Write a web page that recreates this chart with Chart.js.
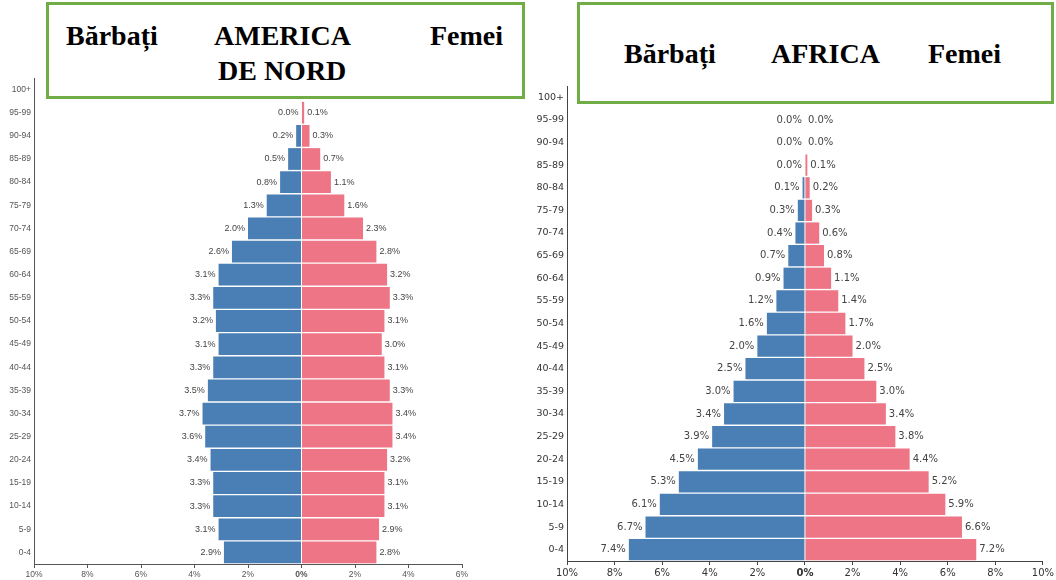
<!DOCTYPE html>
<html>
<head>
<meta charset="utf-8">
<script src="https://cdn.jsdelivr.net/npm/chart.js@4"></script>
<style>
  body { margin: 0; background: #fff; width: 1056px; height: 580px; position: relative; overflow: hidden; }
  .wrap { position: absolute; top: 0; height: 580px; }
  .box {
    position: absolute; background: #fff; border: 3px solid #70ad47; box-sizing: border-box;
    font-family: "Liberation Serif", "Times New Roman", serif; font-weight: bold; font-size: 28px; color: #000;
  }
  .box span { position: absolute; line-height: 32px; white-space: nowrap; }
</style>
</head>
<body>
<div class="wrap" style="left:0;width:528px"><canvas id="chartAmerica"></canvas></div>
<div class="wrap" style="left:530px;width:526px"><canvas id="chartAfrica"></canvas></div>

<div class="box" style="left:46px;top:2px;width:479px;height:97px">
  <span style="left:17px;top:15px">Bărbați</span>
  <span style="left:165px;top:15px">AMERICA</span>
  <span style="left:381px;top:15px">Femei</span>
  <span style="left:169px;top:50px">DE NORD</span>
</div>
<div class="box" style="left:577px;top:2px;width:477px;height:102px">
  <span style="left:44px;top:33px">Bărbați</span>
  <span style="left:191px;top:33px">AFRICA</span>
  <span style="left:348px;top:33px">Femei</span>
</div>

<script>
const ageGroups = ["100+", "95-99", "90-94", "85-89", "80-84", "75-79", "70-74", "65-69", "60-64", "55-59",
  "50-54", "45-49", "40-44", "35-39", "30-34", "25-29", "20-24", "15-19", "10-14", "5-9", "0-4"];

// procente, de sus (100+) in jos (0-4)
const americaMen   = [null, 0.0, 0.2, 0.5, 0.8, 1.3, 2.0, 2.6, 3.1, 3.3, 3.2, 3.1, 3.3, 3.5, 3.7, 3.6, 3.4, 3.3, 3.3, 3.1, 2.9];
const americaWomen = [null, 0.1, 0.3, 0.7, 1.1, 1.6, 2.3, 2.8, 3.2, 3.3, 3.1, 3.0, 3.1, 3.3, 3.4, 3.4, 3.2, 3.1, 3.1, 2.9, 2.8];
const africaMen    = [null, 0.0, 0.0, 0.0, 0.1, 0.3, 0.4, 0.7, 0.9, 1.2, 1.6, 2.0, 2.5, 3.0, 3.4, 3.9, 4.5, 5.3, 6.1, 6.7, 7.4];
const africaWomen  = [null, 0.0, 0.0, 0.1, 0.2, 0.3, 0.6, 0.8, 1.1, 1.4, 1.7, 2.0, 2.5, 3.0, 3.4, 3.8, 4.4, 5.2, 5.9, 6.6, 7.2];

const blue = "#4a7fb5";
const pink = "#ee7585";

// eticheta cu procentul la capatul fiecarei bare
const barLabels = {
  id: "barLabels",
  afterDatasetsDraw(chart, args, opts) {
    const ctx = chart.ctx;
    ctx.save();
    ctx.font = opts.font;
    ctx.fillStyle = opts.color;
    ctx.textBaseline = "middle";
    chart.data.datasets.forEach((ds, i) => {
      const meta = chart.getDatasetMeta(i);
      meta.data.forEach((bar, j) => {
        const v = ds.data[j];
        if (v === null) return;
        const txt = Math.abs(v).toFixed(1) + "%";
        if (i === 0) {
          ctx.textAlign = "right";
          ctx.fillText(txt, bar.x - 3, bar.y);
        } else {
          ctx.textAlign = "left";
          ctx.fillText(txt, bar.x + 3, bar.y);
        }
      });
    });
    ctx.restore();
  },
};

function makePyramid(id, men, women, o) {
  const ctx = document.getElementById(id).getContext("2d");
  return new Chart(ctx, {
    type: "bar",
    data: {
      labels: ageGroups,
      datasets: [
        { label: "Bărbați", data: men.map((v) => (v === null ? null : -v)), backgroundColor: blue },
        { label: "Femei", data: women, backgroundColor: pink },
      ],
    },
    options: {
      indexAxis: "y",
      responsive: true,
      maintainAspectRatio: false,
      animation: false,
      barPercentage: 0.94,
      categoryPercentage: 1,
      layout: { padding: o.padding },
      plugins: {
        legend: { display: false },
        tooltip: { enabled: false },
        barLabels: { font: o.labelFont, color: "#444" },
      },
      scales: {
        x: {
          stacked: true,
          min: -10,
          max: o.xMax,
          afterFit: (s) => { s.height = o.xHeight; },
          ticks: {
            stepSize: 2,
            padding: 2,
            color: o.tickColor,
            font: (c) => ({ family: o.family, size: o.tickSize, weight: c.tick && c.tick.value === 0 ? "bold" : "normal" }),
            callback: (v) => Math.abs(v) + "%",
          },
          grid: { drawOnChartArea: false, tickLength: 4, color: o.axisColor },
          border: { color: o.axisColor, width: 1 },
        },
        y: {
          stacked: true,
          afterFit: (s) => { s.width = o.yWidth; },
          ticks: {
            padding: 3,
            color: o.tickColor,
            font: { family: o.family, size: o.yTickSize },
          },
          grid: { display: false, drawTicks: false },
          border: { color: o.axisColor, width: 1 },
        },
      },
    },
    plugins: [barLabels],
  });
}

makePyramid("chartAmerica", americaMen, americaWomen, {
  padding: { top: 78, right: 66, left: 0, bottom: 0 },
  xMax: 6,
  xHeight: 16,
  yWidth: 34,
  family: "'Liberation Sans', Arial, sans-serif",
  tickSize: 8.5,
  yTickSize: 8.5,
  labelFont: "9px 'Liberation Sans', Arial, sans-serif",
  tickColor: "#555",
  axisColor: "#555",
});

makePyramid("chartAfrica", africaMen, africaWomen, {
  padding: { top: 86, right: 13, left: 0, bottom: 0 },
  xMax: 10,
  xHeight: 19,
  yWidth: 37,
  family: "'DejaVu Sans', sans-serif",
  tickSize: 10,
  yTickSize: 9.5,
  labelFont: "10px 'DejaVu Sans', sans-serif",
  tickColor: "#333",
  axisColor: "#444",
});
</script>
</body>
</html>
